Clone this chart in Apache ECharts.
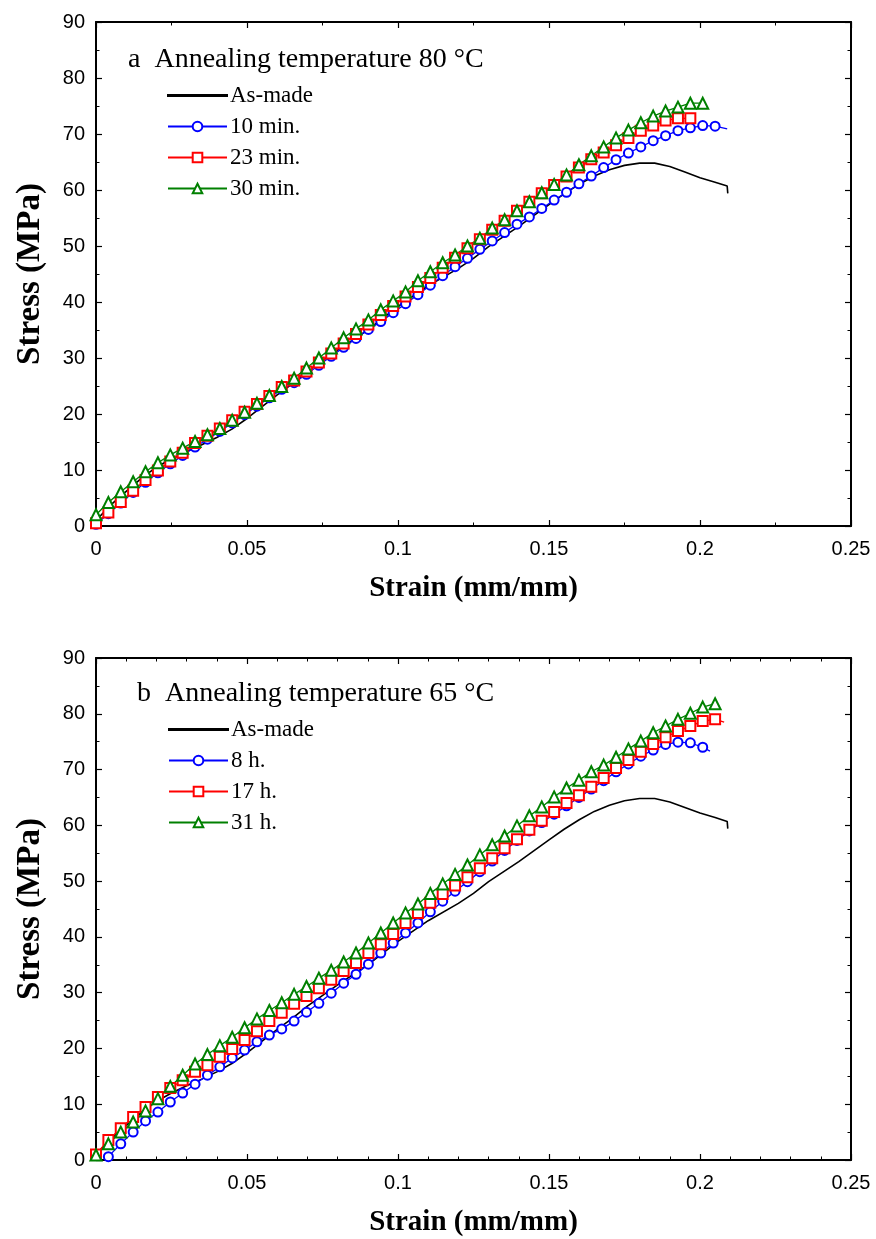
<!DOCTYPE html>
<html>
<head>
<meta charset="utf-8">
<script src="https://cdn.jsdelivr.net/npm/echarts@6/dist/echarts.min.js"></script>
<style>
  html, body { margin: 0; padding: 0; background: #fff; }
  #main { width: 876px; height: 1239px; }
</style>
</head>
<body>
<div id="main"></div>
<script>
// marker positions on the strain axis (same for every marked curve)
const strainGrid = [0, 0.0041, 0.0082, 0.0123, 0.0164, 0.0205, 0.0246, 0.0287, 0.0328, 0.0369,
  0.041, 0.0451, 0.0492, 0.0533, 0.0574, 0.0615, 0.0656, 0.0697, 0.0738, 0.0779,
  0.082, 0.0861, 0.0902, 0.0943, 0.0984, 0.1025, 0.1066, 0.1107, 0.1148, 0.1189,
  0.123, 0.1271, 0.1312, 0.1353, 0.1394, 0.1435, 0.1476, 0.1517, 0.1558, 0.1599,
  0.164, 0.1681, 0.1722, 0.1763, 0.1804, 0.1845, 0.1886, 0.1927, 0.1968, 0.2009, 0.205];

// as-made specimen (same curve in both panels)
const asMadeStrain = [0, 0.005, 0.01, 0.015, 0.02, 0.025, 0.03, 0.035, 0.04, 0.045, 0.05, 0.055, 0.06, 0.065,
  0.07, 0.08, 0.09, 0.1, 0.11, 0.12, 0.125, 0.13, 0.14, 0.15, 0.155, 0.16, 0.165, 0.17, 0.175,
  0.18, 0.185, 0.19, 0.195, 0.2, 0.205, 0.209, 0.2092];
const asMadeStress = [1.0, 3.8, 6.2, 8.5, 10.5, 12.0, 13.3, 14.5, 15.8, 17.3, 19.2, 21.3, 23.4, 25.4,
  27.6, 31.4, 35.0, 39.2, 42.9, 46.0, 47.8, 49.9, 53.5, 57.4, 59.3, 61.0, 62.5, 63.6, 64.4,
  64.8, 64.8, 64.2, 63.2, 62.2, 61.4, 60.7, 59.4];

// panel a: annealing at 80 °C
const min10 = [0.3, 2.2, 4.1, 6.0, 7.8, 9.5, 11.1, 12.6, 14.1, 15.5, 16.9, 18.4, 19.9, 21.4, 22.9, 24.4,
  25.6, 27.1, 28.7, 30.3, 31.9, 33.5, 35.1, 36.5, 38.1, 39.7, 41.3, 43.0, 44.7, 46.3, 47.8, 49.4,
  50.9, 52.4, 53.9, 55.2, 56.7, 58.2, 59.6, 61.1, 62.5, 64.0, 65.4, 66.6, 67.7, 68.8, 69.7, 70.6,
  71.1, 71.5, 71.4];
const min10Tail = [0.209, 70.9];
const min23 = [0.5, 2.4, 4.3, 6.3, 8.2, 9.9, 11.5, 13.1, 14.8, 16.1, 17.4, 18.9, 20.4, 21.8, 23.2, 24.8,
  26.0, 27.6, 29.2, 30.8, 32.6, 34.3, 36.0, 37.7, 39.3, 41.0, 42.7, 44.3, 46.1, 47.9, 49.6, 51.2,
  52.9, 54.5, 56.3, 57.9, 59.4, 60.9, 62.4, 64.0, 65.5, 66.7, 68.0, 69.3, 70.6, 71.5, 72.4, 72.8, 72.8];
const min30 = [2.0, 4.2, 6.1, 7.9, 9.7, 11.3, 12.7, 13.9, 15.1, 16.3, 17.4, 18.9, 20.3, 21.9, 23.3, 24.9,
  26.4, 28.2, 30.0, 31.8, 33.6, 35.2, 36.8, 38.6, 40.2, 41.8, 43.8, 45.4, 47.0, 48.4, 50.0, 51.4,
  53.2, 54.7, 56.3, 57.9, 59.5, 61.0, 62.7, 64.5, 66.1, 67.7, 69.3, 70.7, 72.0, 73.2, 74.1, 74.8,
  75.5, 75.5];

// panel b: annealing at 65 °C (8 h curve starts at the second marker)
const h8 = [0.6, 2.9, 5.0, 7.0, 8.6, 10.4, 12.0, 13.6, 15.2, 16.7, 18.3, 19.7, 21.2, 22.4, 23.5, 24.9,
  26.5, 28.1, 29.9, 31.7, 33.3, 35.1, 37.1, 38.9, 40.7, 42.5, 44.5, 46.4, 48.2, 49.9, 51.7, 53.6,
  55.5, 57.3, 59.0, 60.5, 62.0, 63.5, 65.0, 66.5, 68.0, 69.6, 71.0, 72.4, 73.5, 74.5, 74.9, 74.8, 74.0];
const h8Tail = [0.2033, 73.3];
const h17 = [1.0, 3.6, 5.7, 7.7, 9.5, 11.3, 12.9, 14.3, 15.8, 17.0, 18.5, 19.9, 21.5, 23.1, 24.9, 26.4,
  28.0, 29.4, 30.8, 32.3, 33.9, 35.3, 37.1, 38.7, 40.5, 42.5, 44.3, 46.1, 47.7, 49.2, 50.7, 52.3,
  54.1, 55.9, 57.5, 59.2, 60.8, 62.4, 64.0, 65.4, 66.9, 68.5, 70.3, 71.7, 73.2, 74.6, 75.8, 76.9,
  77.8, 78.7, 79.0];
const h17Tail = [0.208, 78.5];
const h31 = [0.9, 2.9, 5.0, 6.8, 8.8, 11.0, 13.2, 15.2, 17.2, 18.9, 20.5, 22.0, 23.7, 25.3, 26.8, 28.2,
  29.7, 31.1, 32.6, 34.0, 35.5, 37.1, 38.9, 40.7, 42.5, 44.3, 45.9, 47.8, 49.5, 51.2, 52.9, 54.7,
  56.5, 58.1, 59.9, 61.7, 63.3, 65.1, 66.7, 68.1, 69.6, 70.8, 72.2, 73.7, 75.1, 76.6, 77.8, 79.0,
  80.1, 81.2, 81.8];

const namesA = ['As-made', '10 min.', '23 min.', '30 min.'];
const namesB = ['As-made', '8 h.', '17 h.', '31 h.'];

const BLUE = '#0000ff', RED = '#ff0000', GREEN = '#008000';
const SANS = 'Liberation Sans', SERIF = 'Liberation Serif';

// pair stresses with marker strains, optional unmarked tail point
function toPoints(stress, offset, tail) {
  const pts = stress.map((s, i) => [strainGrid[i + offset], s]);
  if (tail) pts.push({ value: tail, symbol: 'none' });
  return pts;
}
const asMade = asMadeStrain.map((x, i) => [x, asMadeStress[i]]);

// plain line icon for the unmarked curve in the legend
function legendData(names) {
  return names.map(n => n === 'As-made'
    ? { name: n, icon: 'path://M0,0H60V1.1H0Z', itemStyle: { color: '#000' } }
    : n);
}

const chart = echarts.init(document.getElementById('main'));

function xAxes(gridIndex, minorSplit) {
  const common = {
    type: 'value', gridIndex: gridIndex, min: 0, max: 0.25, interval: 0.05,
    axisLine: { show: true, onZero: false, lineStyle: { color: '#000', width: 2 } },
    axisTick: { show: true, inside: true, length: 6, lineStyle: { color: '#000', width: 1.2 } },
    minorTick: { show: true, splitNumber: minorSplit, length: 3.5, lineStyle: { color: '#000', width: 1 } },
    splitLine: { show: false }
  };
  return [
    Object.assign({}, common, {
      position: 'bottom',
      name: 'Strain (mm/mm)', nameLocation: 'middle', nameGap: 48,
      nameTextStyle: { fontFamily: SERIF, fontWeight: 'bold', fontSize: 29, color: '#000' },
      axisLabel: { fontFamily: SANS, fontSize: 20, color: '#000', margin: 13 }
    }),
    Object.assign({}, common, { position: 'top', axisLabel: { show: false } })
  ];
}
function yAxes(gridIndex) {
  const common = {
    type: 'value', gridIndex: gridIndex, min: 0, max: 90, interval: 10,
    axisLine: { show: true, onZero: false, lineStyle: { color: '#000', width: 2 } },
    axisTick: { show: true, inside: true, length: 6, lineStyle: { color: '#000', width: 1.2 } },
    minorTick: { show: true, splitNumber: 2, length: 3.5, lineStyle: { color: '#000', width: 1 } },
    splitLine: { show: false }
  };
  return [
    Object.assign({}, common, {
      position: 'left',
      name: 'Stress (MPa)', nameLocation: 'middle', nameGap: 49, nameRotate: 90,
      nameTextStyle: { fontFamily: SERIF, fontWeight: 'bold', fontSize: 33, color: '#000' },
      axisLabel: { fontFamily: SANS, fontSize: 20, color: '#000', margin: 11 }
    }),
    Object.assign({}, common, { position: 'right', axisLabel: { show: false } })
  ];
}

function lineSeries(name, data, color, symbol, size, xi, yi) {
  return {
    name: name, type: 'line', data: data, xAxisIndex: xi, yAxisIndex: yi,
    symbol: symbol, symbolSize: size, showAllSymbol: true,
    lineStyle: { color: color, width: 1.3 },
    itemStyle: { color: color, borderColor: color, borderWidth: 1.3 },
    emphasis: { disabled: true },
    z: 2
  };
}

const option = {
  animation: false,
  backgroundColor: '#fff',
  title: [
    { text: 'a  Annealing temperature 80 °C', left: 128, top: 46, padding: 0,
      textStyle: { fontFamily: SERIF, fontWeight: 'normal', fontSize: 28, color: '#000' } },
    { text: 'b  Annealing temperature 65 °C', left: 137, top: 680, padding: 0,
      textStyle: { fontFamily: SERIF, fontWeight: 'normal', fontSize: 28, color: '#000' } }
  ],
  legend: [
    { data: legendData(namesA), orient: 'vertical', left: 167, top: 84, padding: 0,
      itemWidth: 59, itemHeight: 12, itemGap: 8, selectedMode: false,
      textStyle: { fontFamily: SERIF, fontSize: 23, color: '#000', padding: [0, 0, 0, -2] } },
    { data: legendData(namesB), orient: 'vertical', left: 168, top: 718, padding: 0,
      itemWidth: 59, itemHeight: 12, itemGap: 8, selectedMode: false,
      textStyle: { fontFamily: SERIF, fontSize: 23, color: '#000', padding: [0, 0, 0, -2] } }
  ],
  grid: [
    { left: 96, right: 25, top: 22, height: 504 },
    { left: 96, right: 25, top: 658, height: 502 }
  ],
  xAxis: xAxes(0, 2).concat(xAxes(1, 5)),
  yAxis: yAxes(0).concat(yAxes(1)),
  series: [
    lineSeries('As-made', asMade, '#000', 'none', 0, 0, 0),
    lineSeries('10 min.', toPoints(min10, 0, min10Tail), BLUE, 'emptyCircle', 9, 0, 0),
    lineSeries('23 min.', toPoints(min23, 0), RED, 'emptyRect', 10, 0, 0),
    lineSeries('30 min.', toPoints(min30, 0), GREEN, 'emptyTriangle', 11, 0, 0),
    lineSeries('As-made', asMade, '#000', 'none', 0, 2, 2),
    lineSeries('8 h.', toPoints(h8, 1, h8Tail), BLUE, 'emptyCircle', 9, 2, 2),
    lineSeries('17 h.', toPoints(h17, 0, h17Tail), RED, 'emptyRect', 10, 2, 2),
    lineSeries('31 h.', toPoints(h31, 0), GREEN, 'emptyTriangle', 11, 2, 2)
  ]
};
option.series[0].lineStyle.width = 1.6;
option.series[4].lineStyle.width = 1.6;

chart.setOption(option);
</script>
</body>
</html>
